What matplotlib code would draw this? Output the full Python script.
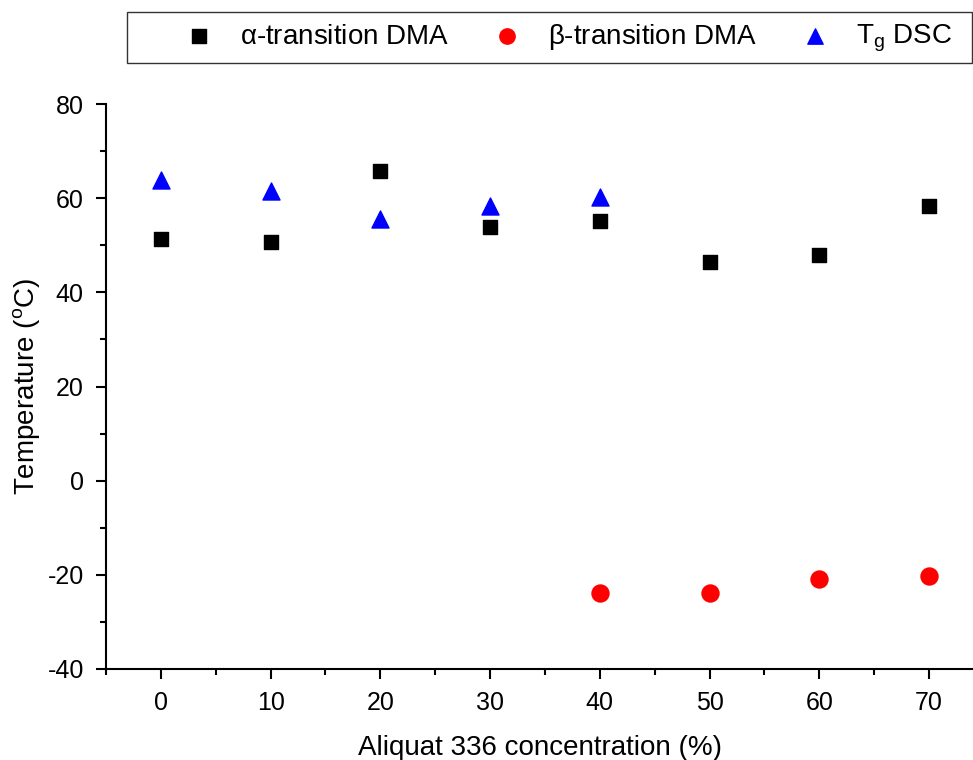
import matplotlib
matplotlib.use("Agg")
import matplotlib.pyplot as plt
from matplotlib.ticker import MultipleLocator
from matplotlib.patches import Rectangle

plt.rcParams['font.family'] = ['Liberation Sans', 'DejaVu Sans']
plt.rcParams['mathtext.fontset'] = 'custom'
plt.rcParams['mathtext.rm'] = 'Liberation Sans'
plt.rcParams['mathtext.it'] = 'Liberation Sans'
plt.rcParams['axes.unicode_minus'] = False

x_alpha = [0, 10, 20, 30, 40, 50, 60, 70]
alpha_dma = [51.3, 50.6, 65.7, 53.8, 55.1, 46.4, 47.9, 58.3]
x_beta = [40, 50, 60, 70]
beta_dma = [-23.8, -23.8, -20.9, -20.2]
x_tg = [0, 10, 20, 30, 40]
tg_dsc = [63.8, 61.5, 55.5, 58.3, 60.2]

W, H = 973, 760
fig = plt.figure(figsize=(W/100, H/100), dpi=100)
ax = fig.add_axes([106/W, 1-669/H, (W-106)/W, (669-104)/H])

h1 = ax.scatter(x_alpha, alpha_dma, marker='s', s=110, color='black', label=r'$\alpha$-transition DMA')
h2 = ax.scatter(x_beta, beta_dma, marker='o', s=150, color='red', label=r'$\beta$-transition DMA')
h3 = ax.scatter(x_tg, tg_dsc, marker='^', s=150, color='blue', label=r'T$_\mathregular{g}$ DSC')

ax.set_xlim(-5, 74)
ax.set_ylim(-40, 80)
ax.xaxis.set_minor_locator(MultipleLocator(5))
ax.yaxis.set_major_locator(MultipleLocator(20))
ax.yaxis.set_minor_locator(MultipleLocator(10))
ax.set_xticks(range(0, 71, 10))
ax.spines['top'].set_visible(False)
ax.spines['right'].set_visible(False)
for s in ['left', 'bottom']:
    ax.spines[s].set_linewidth(1.5)
ax.tick_params(which='major', direction='out', length=7, width=1.5, labelsize=18)
ax.tick_params(axis='x', which='major', pad=9)
ax.tick_params(axis='y', which='major', pad=9)
ax.tick_params(which='minor', direction='out', length=4, width=1.5)

ax.set_xlabel('Aliquat 336 concentration (%)', fontsize=20, labelpad=14)
ax.set_ylabel(r'Temperature ($^\mathregular{o}$C)', fontsize=20, labelpad=4)

# legend box
fig.patches.append(Rectangle((127/W, 1-63/H), (972-127)/W, 51/H, transform=fig.transFigure,
                             fill=False, edgecolor='#333333', linewidth=1.0))
fs = 20
fs_px = fs * 100 / 72
leg = fig.legend(handles=[h1, h2, h3], loc='center left',
                 bbox_to_anchor=((199 - fs_px/2)/W, 1-38/H),
                 ncol=3, fontsize=fs, frameon=False,
                 borderpad=0, borderaxespad=0, handlelength=1.0,
                 handletextpad=(41 - fs_px/2)/fs_px, columnspacing=(58 - fs_px/2)/fs_px,
                 scatterpoints=1, markerscale=0.9)

fig.savefig('out.png', dpi=100)
